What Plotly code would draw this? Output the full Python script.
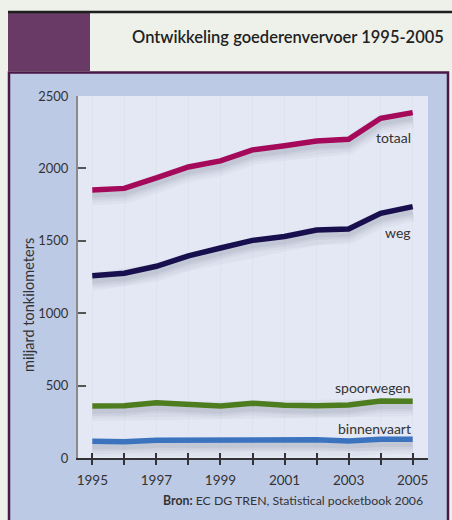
import plotly.graph_objects as go

# ---- data ----
years = list(range(1995, 2006))
year_labels = ["1995", "", "1997", "", "1999", "", "2001", "", "2003", "", "2005"]
totaal = [1850, 1862, 1935, 2010, 2052, 2128, 2156, 2189, 2201, 2346, 2385]
weg = [1259, 1276, 1324, 1396, 1450, 1503, 1530, 1575, 1581, 1690, 1736]
spoorwegen = [359, 361, 382, 371, 359, 378, 364, 361, 366, 394, 392]
binnenvaart = [115, 113, 122, 124, 124, 129, 129, 126, 117, 129, 129]
y_ticks = [0, 500, 1000, 1500, 2000, 2500]

series_names = ["totaal", "weg", "spoorwegen", "binnenvaart"]
series_values = [totaal, weg, spoorwegen, binnenvaart]
series_colors = ["#a4095a", "#180f4e", "#4d7d1f", "#3b73bf"]
label_y = [2210, 1554, 490, 207]  # text positions (data units)

W, H = 452, 520
L, R, T, B = 78, 428, 96, 458
def px(x):
    return (x - L) / (R - L)
def py(y):
    return (B - y) / (B - T)

FONT = "Lato"
TXT = "#333333"

fig = go.Figure()

# soft drop shadows (several translucent layers below each line)
shadow_layers = [(42, 18, 0.035), (40, 13, 0.045), (38, 9, 0.06), (36, 5, 0.07)]
for vals in series_values:
    for off, w, a in shadow_layers:
        fig.add_trace(go.Scatter(x=years, y=[v - off for v in vals], mode="lines",
                                 line=dict(color=f"rgba(60,65,95,{a})", width=w),
                                 hoverinfo="skip", showlegend=False))

for name, vals, col in zip(series_names, series_values, series_colors):
    fig.add_trace(go.Scatter(x=years, y=vals, mode="lines", name=name,
                             line=dict(color=col, width=5.5), showlegend=False))

# dummy trace for overlay axis (crossing ticks)
fig.add_trace(go.Scatter(x=[years[0]], y=[0], xaxis="x2", mode="markers",
                         marker=dict(opacity=0), hoverinfo="skip", showlegend=False))

for name, yv in zip(series_names, label_y):
    fig.add_annotation(x=2005, y=yv, xref="x", yref="y", text=name, showarrow=False,
                       xanchor="right", yanchor="middle",
                       font=dict(family=FONT, size=14, color=TXT))

xr = [1995 - (92.3 - L) / 32.04, 2005 + (R - 412.7) / 32.04]

shapes = [
    dict(type="rect", xref="paper", yref="paper", x0=px(9), x1=px(448), y0=py(530), y1=py(72.5),
         fillcolor="#bdcae6", line=dict(color="#4a1947", width=2.5), layer="below"),
    dict(type="rect", xref="paper", yref="paper", x0=0, x1=1, y0=0, y1=1,
         fillcolor="#e4e8f4", line=dict(width=0), layer="below"),
    dict(type="rect", xref="paper", yref="paper", x0=px(8), x1=px(90), y0=py(71), y1=py(13),
         fillcolor="#683a65", line=dict(width=0), layer="below"),
    dict(type="line", xref="paper", yref="paper", x0=px(8), x1=px(452), y0=py(12), y1=py(12),
         line=dict(color="#1e1e1e", width=2.5), layer="below"),
]

fig.add_annotation(x=px(130), y=py(37), xref="paper", yref="paper", xanchor="left", yanchor="middle",
                   text="Ontwikkeling goederenvervoer 1995-2005", showarrow=False,
                   font=dict(family=FONT, size=16.5, color="#222222", weight=600))
fig.add_annotation(x=px(28), y=py(305), xref="paper", yref="paper", xanchor="center", yanchor="middle",
                   text="miljard tonkilometers", textangle=-90, showarrow=False,
                   font=dict(family=FONT, size=14.5, color=TXT))
fig.add_annotation(x=px(425), y=py(500), xref="paper", yref="paper", xanchor="right", yanchor="middle",
                   text="<b>Bron:</b> EC DG TREN, Statistical pocketbook 2006", showarrow=False,
                   font=dict(family=FONT, size=12.3, color=TXT))

fig.update_layout(
    width=W, height=H,
    margin=dict(l=L, r=W - R, t=T, b=H - B, pad=0),
    paper_bgcolor="#eef1ea",
    plot_bgcolor="rgba(0,0,0,0)",
    shapes=shapes,
    xaxis=dict(range=xr, tickvals=years, ticktext=year_labels, ticks="outside", ticklen=5,
               tickwidth=1.5, tickcolor="#333333", showline=True, linecolor="#333333", linewidth=1.5,
               showgrid=True, gridcolor="#dfe3ef", gridwidth=1, zeroline=False,
               ticklabelstandoff=4,
               tickfont=dict(family=FONT, size=13.5, color=TXT), fixedrange=True),
    xaxis2=dict(overlaying="x", range=xr, tickvals=years, ticks="inside", ticklen=5, tickwidth=1.5,
                tickcolor="#333333", showticklabels=False, showline=False, showgrid=False,
                zeroline=False, side="bottom", fixedrange=True),
    yaxis=dict(range=[0, 2500], tickvals=y_ticks, ticks="inside", ticklen=8, tickwidth=1.5,
               tickcolor="#555555", showline=True, linecolor="#8a8a8a", linewidth=2,
               showgrid=False, zeroline=False, ticklabelstandoff=5,
               tickfont=dict(family=FONT, size=13, color=TXT), fixedrange=True),
    showlegend=False,
)

fig.write_html("out.html")
